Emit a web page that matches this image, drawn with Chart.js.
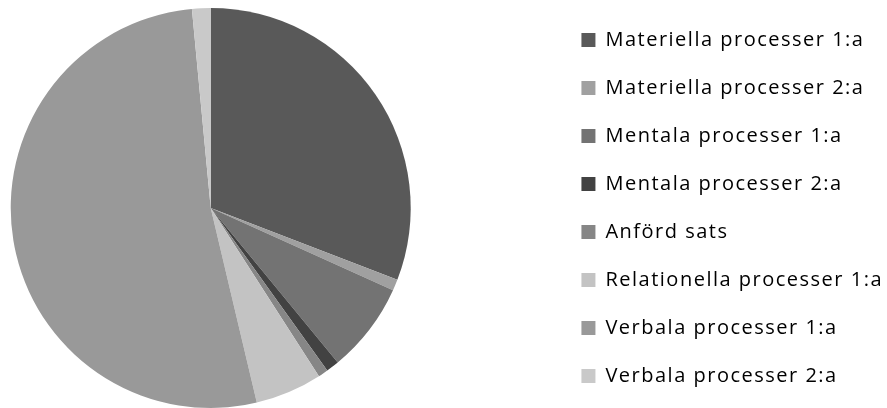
<!DOCTYPE html>
<html>
<head>
<meta charset="utf-8">
<script src="https://cdn.jsdelivr.net/npm/chart.js@4/dist/chart.umd.min.js"></script>
<style>
html,body{margin:0;padding:0;background:#fff;overflow:hidden;}
#wrap{position:relative;width:887px;height:408px;overflow:hidden;}
#c{position:absolute;left:-132px;top:-8px;}
</style>
</head>
<body>
<div id="wrap"><canvas id="c" width="1025" height="432"></canvas></div>
<script>
const categories = [
  "Materiella processer 1:a",
  "Materiella processer 2:a",
  "Mentala processer 1:a",
  "Mentala processer 2:a",
  "Anförd sats",
  "Relationella processer 1:a",
  "Verbala processer 1:a",
  "Verbala processer 2:a"
];
const values = [30.85, 0.9, 7.3, 1.05, 0.8, 5.4, 52.2, 1.5];
const colors = ["#595959", "#a0a0a0", "#737373", "#424242", "#868686", "#c3c3c3", "#999999", "#c9c9c9"];

const spacingPlugin = {
  id: 'letterSpacing',
  beforeInit(chart) { chart.ctx.letterSpacing = '1.5px'; },
  beforeLayout(chart) { chart.ctx.letterSpacing = '1.5px'; },
  beforeDraw(chart) { chart.ctx.letterSpacing = '1.5px'; }
};

new Chart(document.getElementById('c'), {
  type: 'pie',
  data: {
    labels: categories,
    datasets: [{
      data: values,
      backgroundColor: colors,
      borderWidth: 0,
      radius: 200
    }]
  },
  options: {
    responsive: false,
    animation: false,
    events: [],
    layout: { padding: 0 },
    plugins: {
      tooltip: { enabled: false },
      legend: {
        position: 'right',
        align: 'center',
        labels: {
          boxWidth: 14,
          boxHeight: 14,
          padding: 28,
          color: '#000000',
          font: { family: 'Open Sans', size: 20 }
        }
      }
    }
  },
  plugins: [spacingPlugin]
});
</script>
</body>
</html>
